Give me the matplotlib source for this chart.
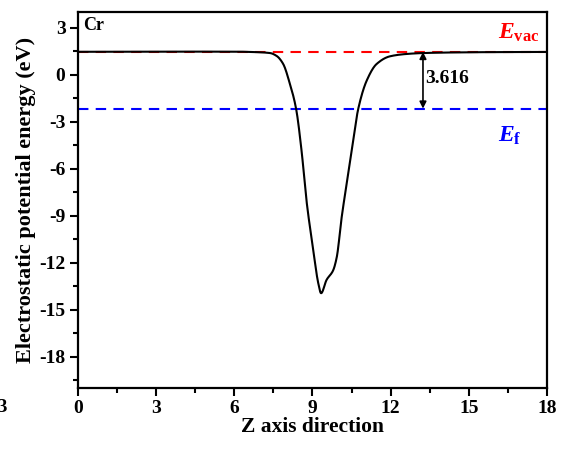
import numpy as np
import matplotlib.pyplot as plt

plt.rcParams['font.family'] = ['Liberation Serif', 'DejaVu Serif']
plt.rcParams['font.weight'] = 'bold'
plt.rcParams['axes.unicode_minus'] = False
plt.rcParams['mathtext.fontset'] = 'custom'
plt.rcParams['mathtext.rm'] = 'Liberation Serif:bold'
plt.rcParams['mathtext.it'] = 'Liberation Serif:bold:italic'
plt.rcParams['mathtext.bf'] = 'Liberation Serif:bold'

# planar-averaged electrostatic potential along z for Cr
z = [0.0, 2.0, 4.0, 6.0, 6.8, 7.37, 7.62, 7.87, 8.13, 8.37, 8.58, 8.77, 9.03,
     9.22, 9.33, 9.54, 9.79, 9.93, 10.12, 10.31, 10.5, 10.76, 11.08, 11.46,
     11.97, 12.6, 13.24, 14.5, 16.0, 18.0]
pot = [1.46, 1.46, 1.47, 1.47, 1.44, 1.38, 1.2, 0.7, -0.57, -2.17, -4.85, -8.04,
       -11.2, -13.3, -13.95, -13.1, -12.5, -11.66, -9.1, -6.97, -4.85, -2.15,
       -0.38, 0.68, 1.17, 1.32, 1.38, 1.42, 1.44, 1.45]

e_vac = 1.45
work_fn = 3.616
e_f = e_vac - work_fn
arrow_z = 13.24


def pchip(x, y, xn):
    x = np.asarray(x, float)
    y = np.asarray(y, float)
    h = np.diff(x)
    d = np.diff(y) / h
    m = np.zeros_like(y)
    for i in range(1, len(x) - 1):
        if d[i - 1] * d[i] > 0:
            w1 = 2 * h[i] + h[i - 1]
            w2 = h[i] + 2 * h[i - 1]
            m[i] = (w1 + w2) / (w1 / d[i - 1] + w2 / d[i])
    m[0], m[-1] = d[0], d[-1]
    idx = np.clip(np.searchsorted(x, xn) - 1, 0, len(h) - 1)
    t = (xn - x[idx]) / h[idx]
    h00 = 2 * t**3 - 3 * t**2 + 1
    h10 = t**3 - 2 * t**2 + t
    h01 = -2 * t**3 + 3 * t**2
    h11 = t**3 - t**2
    return (h00 * y[idx] + h10 * h[idx] * m[idx]
            + h01 * y[idx + 1] + h11 * h[idx] * m[idx + 1])


fig = plt.figure(figsize=(5.63, 4.51), dpi=100)
ax = fig.add_axes([0.1385, 0.1397, 0.8331, 0.8337])

zs = np.linspace(0, 18, 1200)
ps = pchip(z, pot, zs)
ax.plot(zs, ps, color='black', lw=1.5, zorder=3)

ax.axhline(e_vac, color='red', lw=1.5, ls=(0, (5, 3.5)), zorder=2)
ax.axhline(e_f, color='blue', lw=1.5, ls=(0, (5, 3.5)), zorder=2)

ax.annotate('', xy=(arrow_z, e_vac), xytext=(arrow_z, e_f),
            arrowprops=dict(arrowstyle='<|-|>', color='black', lw=1.2,
                            mutation_scale=10, shrinkA=0, shrinkB=0))
ax.text(arrow_z + 0.1, (e_vac + e_f) / 2 + 0.1, '%.3f' % work_fn,
        fontsize=14, fontweight='bold', va='center', ha='left')

ax.text(16.1, 2.65, r'$\mathit{E}_{\mathrm{vac}}$', color='red', fontsize=17,
        ha='left', va='center')
ax.text(16.1, -3.9, r'$\mathit{E}_{\mathrm{f}}$', color='blue', fontsize=17,
        ha='left', va='center')
ax.text(0.2, 3.15, 'Cr', fontsize=13, fontweight='bold', ha='left', va='center')

ax.set_xlim(0, 18)
ax.set_ylim(-20, 4)
ax.set_xticks([0, 3, 6, 9, 12, 15, 18])
ax.set_yticks([3, 0, -3, -6, -9, -12, -15, -18])
ax.set_xticks(np.arange(1.5, 18, 3), minor=True)
ax.set_yticks(np.arange(-19.5, 4, 3), minor=True)
ax.tick_params(which='major', direction='out', length=6, width=1.5,
               labelsize=14, top=False, right=False, pad=3)
ax.tick_params(which='minor', direction='out', length=3.5, width=1.5,
               top=False, right=False)
for s in ax.spines.values():
    s.set_linewidth(1.6)

# stray label left of the origin
ax.text(-3, -20.7, '-3', fontsize=14, fontweight='bold', ha='center',
        va='top', clip_on=False)

ax.set_xlabel('Z axis direction', fontsize=15.5, fontweight='bold', labelpad=0)
ax.set_ylabel('Electrostatic potential energy (eV)', fontsize=16,
              fontweight='bold', labelpad=2)

fig.savefig('out.png', dpi=100)
